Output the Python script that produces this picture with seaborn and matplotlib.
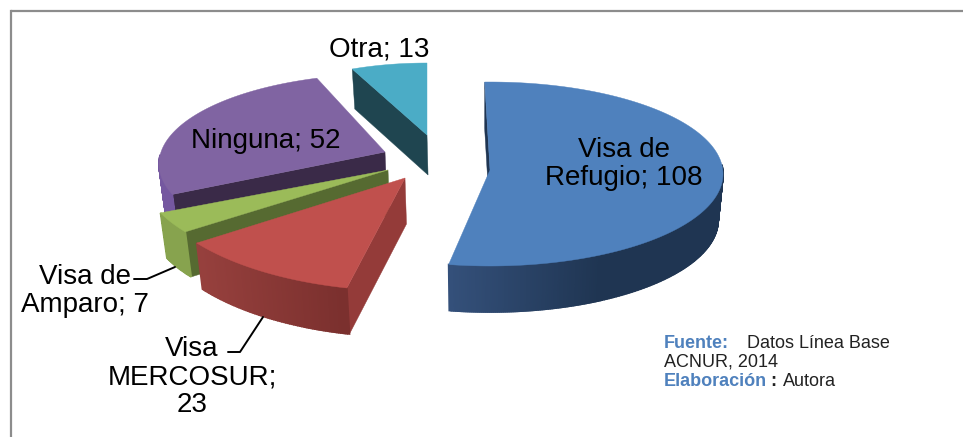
import numpy as np
import matplotlib
matplotlib.use("Agg")
import matplotlib.pyplot as plt
import seaborn as sns
from matplotlib.colors import to_rgb

# ---- data -------------------------------------------------------------
categories = ["Visa de Refugio", "Visa MERCOSUR", "Visa de Amparo", "Ninguna", "Otra"]
values = [108, 23, 7, 52, 13]

# ---- layout of the exploded, tilted pie (pixels) ------------------------
apex_x = [490, 405, 388, 385, 427]
apex_y = [170, 178, 170, 152, 135]
radius_x = [233, 258, 245, 226, 191]
radius_y = [92, 117, 99.5, 90, 75]
shift_y = [4, -4, 6, 12, 3]
angle_shift = [-1.3, 1.5, 3.5, 5.5, 0]
depth = [46, 46, 45, 46, 40]
draw_order = [4, 3, 2, 1, 0]

# ---- styles -------------------------------------------------------------
top_colors = sns.color_palette(["#4F81BD", "#C0504D", "#9BBB59", "#8064A2", "#4BACC6"])
wall_colors = ["#1F3552", "#943B39", "#566A31", "#3A2A48", "#1F4550"]
arc_dark = ["#1F3552", "#7B302E", "#87A34E", "#7558A0", "#1F4550"]
arc_light = ["#34507A", "#96403D", "#87A34E", "#7558A0", "#1F4550"]
arc_ramp = [(600, 450), (340, 200), (0, 1), (0, 1), (0, 1)]

sns.set_theme(style="white")
plt.rcParams["font.family"] = ["Liberation Sans", "DejaVu Sans"]

fig = plt.figure(figsize=(9.63, 4.37), dpi=100)
ax = fig.add_axes([0, 0, 1, 1])
ax.set_xlim(0, 963)
ax.set_ylim(437, 0)
ax.axis("off")

# frame of the pasted picture
ax.plot([11, 11], [437, 11], color="#8C8C8C", lw=1.6, solid_capstyle="projecting")
ax.plot([11, 963], [11, 11], color="#8C8C8C", lw=1.6, solid_capstyle="butt")


def lower(px, py, d):
    """Point on the bottom of the extrusion, leaning to the vanishing point."""
    return px - (px - 480) * 0.02, py + d


edges = np.cumsum([0] + values) / np.sum(values) * 360.0
for i in draw_order:
    n = max(int(edges[i + 1] - edges[i]) * 2, 8)
    th = np.radians(np.linspace(edges[i], edges[i + 1], n) + angle_shift[i])
    ax_x = apex_x[i] + radius_x[i] * np.sin(th)
    ax_y = apex_y[i] + shift_y[i] - radius_y[i] * np.cos(th)
    d = depth[i]

    # radial wall at the start of the slice (the other one is hidden)
    bx0, by0 = lower(apex_x[i], apex_y[i], d)
    bx1, by1 = lower(ax_x[0], ax_y[0], d)
    ax.fill([apex_x[i], ax_x[0], bx1, bx0], [apex_y[i], ax_y[0], by1, by0],
            color=wall_colors[i], lw=0.3, zorder=10 + draw_order.index(i))

    # outer wall, shaded along its length; only the near half can be seen
    x0, x1 = arc_ramp[i]
    dark, light = np.array(to_rgb(arc_dark[i])), np.array(to_rgb(arc_light[i]))
    for k in range(n - 1):
        if np.cos(th[k]) > 0.1 and np.cos(th[k + 1]) > 0.1:
            continue
        xm = (ax_x[k] + ax_x[k + 1]) / 2
        t = np.clip((xm - x0) / (x1 - x0), 0, 1)
        col = dark + (light - dark) * t
        bx0, by0 = lower(ax_x[k], ax_y[k], d)
        bx1, by1 = lower(ax_x[k + 1], ax_y[k + 1], d)
        ax.fill([ax_x[k], ax_x[k + 1], bx1, bx0], [ax_y[k], ax_y[k + 1], by1, by0],
                color=col, lw=1.2, zorder=10 + draw_order.index(i))

    # top face
    ax.fill(np.r_[apex_x[i], ax_x], np.r_[apex_y[i], ax_y],
            color=top_colors[i], lw=0.3, zorder=10.5 + draw_order.index(i))

# leader lines
ax.plot([175, 147, 134], [267, 279, 279], color="black", lw=1.4, zorder=30)
ax.plot([263, 240, 228], [317, 352, 352], color="black", lw=1.4, zorder=30)

# data labels
lab = dict(color="black", fontsize=20, ha="center", va="center", zorder=40, linespacing=1.12)
ax.text(624, 164, f"Visa de\nRefugio; {values[0]}", **lab)
ax.text(192, 377, f"Visa\nMERCOSUR;\n{values[1]}", **lab)
ax.text(85, 291, f"Visa de\nAmparo; {values[2]}", **lab)
ax.text(266, 141, f"Ninguna; {values[3]}", **lab)
ax.text(379, 49, f"Otra; {values[4]}", **lab)

# source note
note = dict(fontsize=13, va="center", ha="left", zorder=40)
ax.text(664, 344, "Fuente:", color="#4F81BD", fontweight="bold", **note)
ax.text(747, 344, "Datos Línea Base", color="#222222", **note)
ax.text(664, 362, "ACNUR, 2014", color="#222222", **note)
ax.text(664, 381, "Elaboración", color="#4F81BD", fontweight="bold", **note)
ax.text(770, 381, ":", color="#222222", fontweight="bold", **note)
ax.text(783, 381, "Autora", color="#222222", **note)

fig.savefig("out.png", dpi=100)
